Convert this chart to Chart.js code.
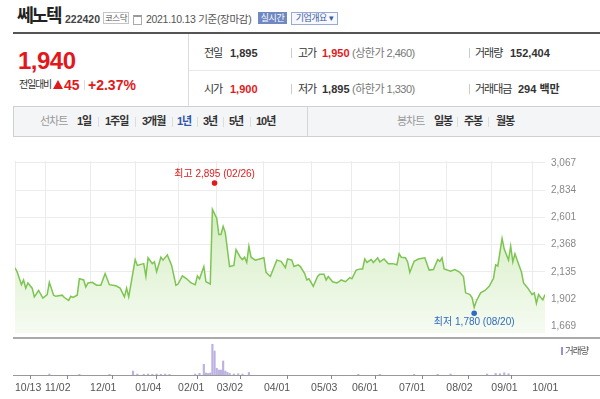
<!DOCTYPE html>
<html>
<head>
<meta charset="utf-8">
<script src="https://cdn.jsdelivr.net/npm/chart.js@4.4.1/dist/chart.umd.min.js"></script>
<style>
  body { margin:0; width:600px; height:399px; overflow:hidden; background:#fff; position:relative;
         font-family:"Liberation Sans","Noto Sans CJK KR",sans-serif; color:#333; }
  .t { position:absolute; white-space:nowrap; line-height:1; }
  .b { font-weight:bold; }
  .r { color:#e2191c; }
  .g { color:#777; }
  .k { letter-spacing:-1px; }
  .ln { position:absolute; }
  canvas { position:absolute; left:0; }
</style>
</head>
<body>
<!-- title row -->
<div class="t b" style="left:17px;top:7px;font-size:18px;letter-spacing:-2px;color:#222">쎄노텍</div>
<div class="t b" style="left:65px;top:13.5px;font-size:10.5px;color:#444">222420</div>
<div class="t" style="left:103px;top:12px;width:24px;height:10px;border:1px solid #c4c4c4;font-size:8.5px;line-height:10px;text-align:center;color:#555;letter-spacing:-0.5px">코스닥</div>
<div class="ln" style="left:133px;top:15px;width:7px;height:7px;border:1px solid #aaa;border-top:2px solid #999"></div>
<div class="t" style="left:146px;top:13.5px;font-size:10.5px;color:#555;letter-spacing:-0.3px">2021.10.13 기준(장마감)</div>
<div class="t" style="left:258px;top:12px;width:29px;height:12px;background:#7088c3;color:#fff;font-size:9px;line-height:12px;text-align:center;letter-spacing:-0.5px">실시간</div>
<div class="t" style="left:291px;top:12px;width:45px;height:11px;border:1px solid #9aaad6;background:#f6f8fd;color:#3d5a9e;font-size:9px;line-height:11px;text-align:center;letter-spacing:-0.5px">기업개요 ▾</div>

<div class="ln" style="left:13px;top:32px;width:587px;height:2px;background:#555"></div>
<div class="ln" style="left:188px;top:34px;width:1px;height:72px;background:#dcdcdc"></div>
<div class="ln" style="left:189px;top:70px;width:411px;height:1px;background:#e8e8e8"></div>

<!-- price box -->
<div class="t b r" style="left:18px;top:49px;font-size:24px;letter-spacing:-0.5px">1,940</div>
<div class="t k" style="left:19px;top:80px;font-size:10px;letter-spacing:-1.2px">전일대비</div>
<div class="ln" style="left:53px;top:80px;width:0;height:0;border-left:5px solid transparent;border-right:5px solid transparent;border-bottom:9px solid #e2191c"></div>
<div class="t b r" style="left:64px;top:78.3px;font-size:14px">45</div>
<div class="ln" style="left:84px;top:80px;width:1px;height:10px;background:#ddd"></div>
<div class="t b r" style="left:88px;top:78.3px;font-size:14px">+2.37%</div>

<!-- row 1 -->
<div class="t k" style="left:204px;top:47.5px;font-size:11px">전일</div>
<div class="t b" style="left:230px;top:47.7px;font-size:11px">1,895</div>
<div class="ln" style="left:291px;top:48px;width:1px;height:10px;background:#ccc"></div>
<div class="t k" style="left:298px;top:47.5px;font-size:11px">고가</div>
<div class="t b r" style="left:322px;top:47.7px;font-size:11px">1,950</div>
<div class="t g" style="left:352px;top:47.5px;font-size:11px;letter-spacing:-0.5px">(상한가 2,460)</div>
<div class="ln" style="left:469px;top:48px;width:1px;height:10px;background:#ccc"></div>
<div class="t k" style="left:475px;top:47.5px;font-size:11px">거래량</div>
<div class="t b" style="left:510px;top:47.7px;font-size:11px">152,404</div>

<!-- row 2 -->
<div class="t k" style="left:204px;top:83.5px;font-size:11px">시가</div>
<div class="t b r" style="left:230px;top:83.7px;font-size:11px">1,900</div>
<div class="ln" style="left:291px;top:84px;width:1px;height:10px;background:#ccc"></div>
<div class="t k" style="left:298px;top:83.5px;font-size:11px">저가</div>
<div class="t b" style="left:322px;top:83.7px;font-size:11px">1,895</div>
<div class="t g" style="left:352px;top:83.5px;font-size:11px;letter-spacing:-0.5px">(하한가 1,330)</div>
<div class="ln" style="left:469px;top:84px;width:1px;height:10px;background:#ccc"></div>
<div class="t k" style="left:475px;top:83.5px;font-size:11px">거래대금</div>
<div class="t b" style="left:518px;top:83.7px;font-size:11px">294 백만</div>

<!-- toolbar -->
<div class="ln" style="left:13px;top:106px;width:586px;height:29px;background:#f4f5f7;border:1px solid #d0d0d0;border-right:none"></div>
<div class="ln" style="left:307px;top:107px;width:1px;height:29px;background:#d5d5d5"></div>
<div class="t k" style="left:40px;top:116px;font-size:11px;color:#999">선차트</div>
<div class="t b k" style="left:77px;top:116px;font-size:11px">1일</div>
<div class="ln" style="left:98px;top:117px;width:1px;height:10px;background:#ddd"></div>
<div class="t b k" style="left:105px;top:116px;font-size:11px">1주일</div>
<div class="ln" style="left:135px;top:117px;width:1px;height:10px;background:#ddd"></div>
<div class="t b k" style="left:142px;top:116px;font-size:11px">3개월</div>
<div class="ln" style="left:172px;top:117px;width:1px;height:10px;background:#ddd"></div>
<div class="t b k" style="left:177px;top:116px;font-size:11px;color:#2f57a8">1년</div>
<div class="ln" style="left:197px;top:117px;width:1px;height:10px;background:#ddd"></div>
<div class="t b k" style="left:203px;top:116px;font-size:11px">3년</div>
<div class="ln" style="left:223px;top:117px;width:1px;height:10px;background:#ddd"></div>
<div class="t b k" style="left:229px;top:116px;font-size:11px">5년</div>
<div class="ln" style="left:250px;top:117px;width:1px;height:10px;background:#ddd"></div>
<div class="t b k" style="left:256px;top:116px;font-size:11px">10년</div>
<div class="t k" style="left:397px;top:116px;font-size:11px;color:#999">봉차트</div>
<div class="t b k" style="left:434px;top:116px;font-size:11px">일봉</div>
<div class="ln" style="left:457px;top:117px;width:1px;height:10px;background:#ddd"></div>
<div class="t b k" style="left:464px;top:116px;font-size:11px">주봉</div>
<div class="ln" style="left:488px;top:117px;width:1px;height:10px;background:#ddd"></div>
<div class="t b k" style="left:496px;top:116px;font-size:11px">월봉</div>

<!-- charts -->
<div class="ln" style="left:13px;top:375px;width:587px;height:1px;background:#999"></div>
<canvas id="priceChart" width="600" height="200" style="top:145px"></canvas>
<canvas id="volChart" width="600" height="59" style="top:340px"></canvas>
<div class="ln" style="left:13px;top:337px;width:587px;height:2px;background:#aaa"></div>
<div class="ln" style="left:561px;top:347px;width:2px;height:8px;background:#9e8fd0"></div>
<div class="t k" style="left:565px;top:346px;font-size:9.5px;color:#555">거래량</div>

<script>
// trading-day index (0 = 2020-10-13) and closing price
const priceIdx = [0,1,3,4,5,6,8,9,11,13,15,16,18,19,22,23,25,26,27,29,30,32,33,34,36,38,40,42,44,47,49,51,52,53,
  56,57,60,61,62,64,65,66,68,69,71,73,75,76,78,80,82,84,85,86,88,89,91,92,94,95,96,97,98,100,102,103,105,106,107,
  108,109,110,112,114,116,117,119,122,124,126,127,129,130,132,133,135,136,137,139,141,142,144,145,146,148,150,151,
  152,154,156,157,159,161,162,163,164,166,167,168,169,170,172,174,176,178,179,180,182,183,184,186,188,191,193,195,
  197,198,199,200,203,205,207,209,210,212,213,214,215,217,219,221,223,224,225,227,228,230,231,232,233,235,236,237,
  239,241,242,243,244,245,246,247];
const priceVal = [2170,2135,2025,2065,1995,2040,1995,1920,1975,1910,1940,2045,1935,1925,1935,1915,1890,1925,1915,1935,
  2075,2065,2005,2040,2045,2020,2020,2120,2025,2015,1995,1920,1995,1920,
  2240,2190,2205,2095,2255,2205,2220,2135,2260,2235,2280,2190,2020,2030,2100,2075,2040,2025,2100,2075,2180,2050,2030,
  2670,2595,2455,2455,2525,2470,2180,2190,2325,2260,2240,2260,
  2215,2355,2260,2235,2245,2255,2130,2095,2235,2225,2170,2245,2235,2180,2195,2180,2120,2065,2075,2010,2095,2115,2115,
  2065,2095,2050,2040,2050,
  2065,2050,2085,2075,2150,2160,2160,2245,2215,2240,2215,2235,2255,2220,2245,2205,2205,2195,2290,2260,2255,2220,2130,
  2225,2245,2255,2150,2155,
  2240,2225,2255,2160,2140,2155,2135,2095,1955,1940,1915,1830,1885,1955,1975,2010,2080,2195,2185,2420,2330,2235,2355,
  2220,2290,2185,2135,2040,
  1995,1940,1955,1865,1940,1915,1895,1940];

// volume (thousand shares)
const volIdx = [16,30,44,55,57,60,62,64,66,68,70,72,84,86,88,89,90,91,92,93,94,95,96,97,98,99,100,102,
  104,106,109,160,170,186,197,203,220,224,226,228,230];
const volVal = [150,100,100,620,150,120,150,120,150,120,150,100,150,250,1670,310,230,310,4800,3750,
  1050,780,780,2190,620,400,250,150,200,150,400,100,100,100,100,150,150,250,200,350,200];

const tickIdx = [0,14,35,56,76,94,116,138,157,179,201,222,241];
const tickLabels = ['10/13','11/02','12/01','01/04','02/01','03/02','04/01','05/03','06/01','07/01','08/02','09/01','10/01'];
const yTicks = [1669,1902,2135,2368,2601,2834,3067];

const markIdx = [93, 214];
const markVal = [2895, 1780];
const markText = ['최고 2,895 (02/26)', '최저 1,780 (08/20)'];
const markColor = ['#e2191c', '#2f6bc4'];

Chart.defaults.font.family = '"Liberation Sans","Noto Sans CJK KR",sans-serif';
Chart.defaults.font.size = 10;

const markPlugin = {
  id: 'marks',
  afterDatasetsDraw(chart) {
    const { ctx, scales: { x, y } } = chart;
    markIdx.forEach((m, i) => {
      const px = x.getPixelForValue(m);
      const py = y.getPixelForValue(markVal[i]);
      ctx.save();
      ctx.fillStyle = markColor[i];
      ctx.beginPath();
      ctx.arc(px, py, 2.8, 0, Math.PI * 2);
      ctx.fill();
      ctx.font = '10px "Liberation Sans","Noto Sans CJK KR"';
      ctx.textAlign = 'center';
      ctx.textBaseline = 'middle';
      ctx.fillText(markText[i], px, py + (i === 0 ? -9 : 9));
      ctx.restore();
    });
  }
};

new Chart(document.getElementById('priceChart'), {
  type: 'line',
  data: {
    datasets: [{
      data: priceIdx.map((d, i) => ({ x: d, y: priceVal[i] })),
      borderColor: '#7dc552',
      borderWidth: 1.5,
      pointRadius: 0,
      tension: 0,
      fill: 'start',
      backgroundColor: (c) => {
        const a = c.chart.chartArea;
        if (!a) return 'rgba(0,0,0,0)';
        const g = c.chart.ctx.createLinearGradient(0, a.top, 0, a.bottom);
        g.addColorStop(0, '#c6e8ad');
        g.addColorStop(1, '#f6fbf2');
        return g;
      }
    }]
  },
  options: {
    responsive: false,
    animation: false,
    devicePixelRatio: 1,
    layout: { padding: { left: 15, right: 0, top: 16, bottom: 7 } },
    plugins: { legend: { display: false }, tooltip: { enabled: false } },
    scales: {
      x: {
        type: 'linear', min: 0, max: 247,
        afterBuildTicks: (s) => { s.ticks = tickIdx.map(v => ({ value: v })); },
        afterFit: (s) => { s.height = 0; },
        ticks: { display: false },
        grid: { color: '#ececec', drawTicks: false },
        border: { display: false }
      },
      y: {
        position: 'right', min: 1611, max: 3084,
        afterBuildTicks: (s) => { s.ticks = yTicks.map(v => ({ value: v })); },
        afterFit: (s) => { s.width = 55; },
        ticks: { color: '#888', padding: 6, font: { size: 10 }, callback: (v) => v.toLocaleString('en-US') },
        grid: { color: '#ececec', drawTicks: false },
        border: { display: false }
      }
    }
  },
  plugins: [markPlugin]
});

new Chart(document.getElementById('volChart'), {
  type: 'bar',
  data: {
    datasets: [{
      data: volIdx.map((d, i) => ({ x: d, y: volVal[i] })),
      backgroundColor: '#bcb1e2',
      barThickness: 1.5
    }]
  },
  options: {
    responsive: false,
    animation: false,
    devicePixelRatio: 1,
    layout: { padding: { left: 15, right: 55, top: 3, bottom: 4 } },
    plugins: { legend: { display: false }, tooltip: { enabled: false } },
    scales: {
      x: {
        type: 'linear', min: 0, max: 247, offset: false,
        afterBuildTicks: (s) => { s.ticks = tickIdx.map(v => ({ value: v })); },
        afterFit: (s) => { s.height = 20; },
        ticks: { color: '#555', font: { size: 10.5 }, align: 'start', padding: 3, maxRotation: 0,
                 callback: (v) => tickLabels[tickIdx.indexOf(v)] },
        grid: { drawOnChartArea: false, tickLength: 4, tickColor: '#888' },
        border: { display: false }
      },
      y: { display: false, min: 0, max: 5000 }
    }
  }
});
</script>
</body>
</html>
